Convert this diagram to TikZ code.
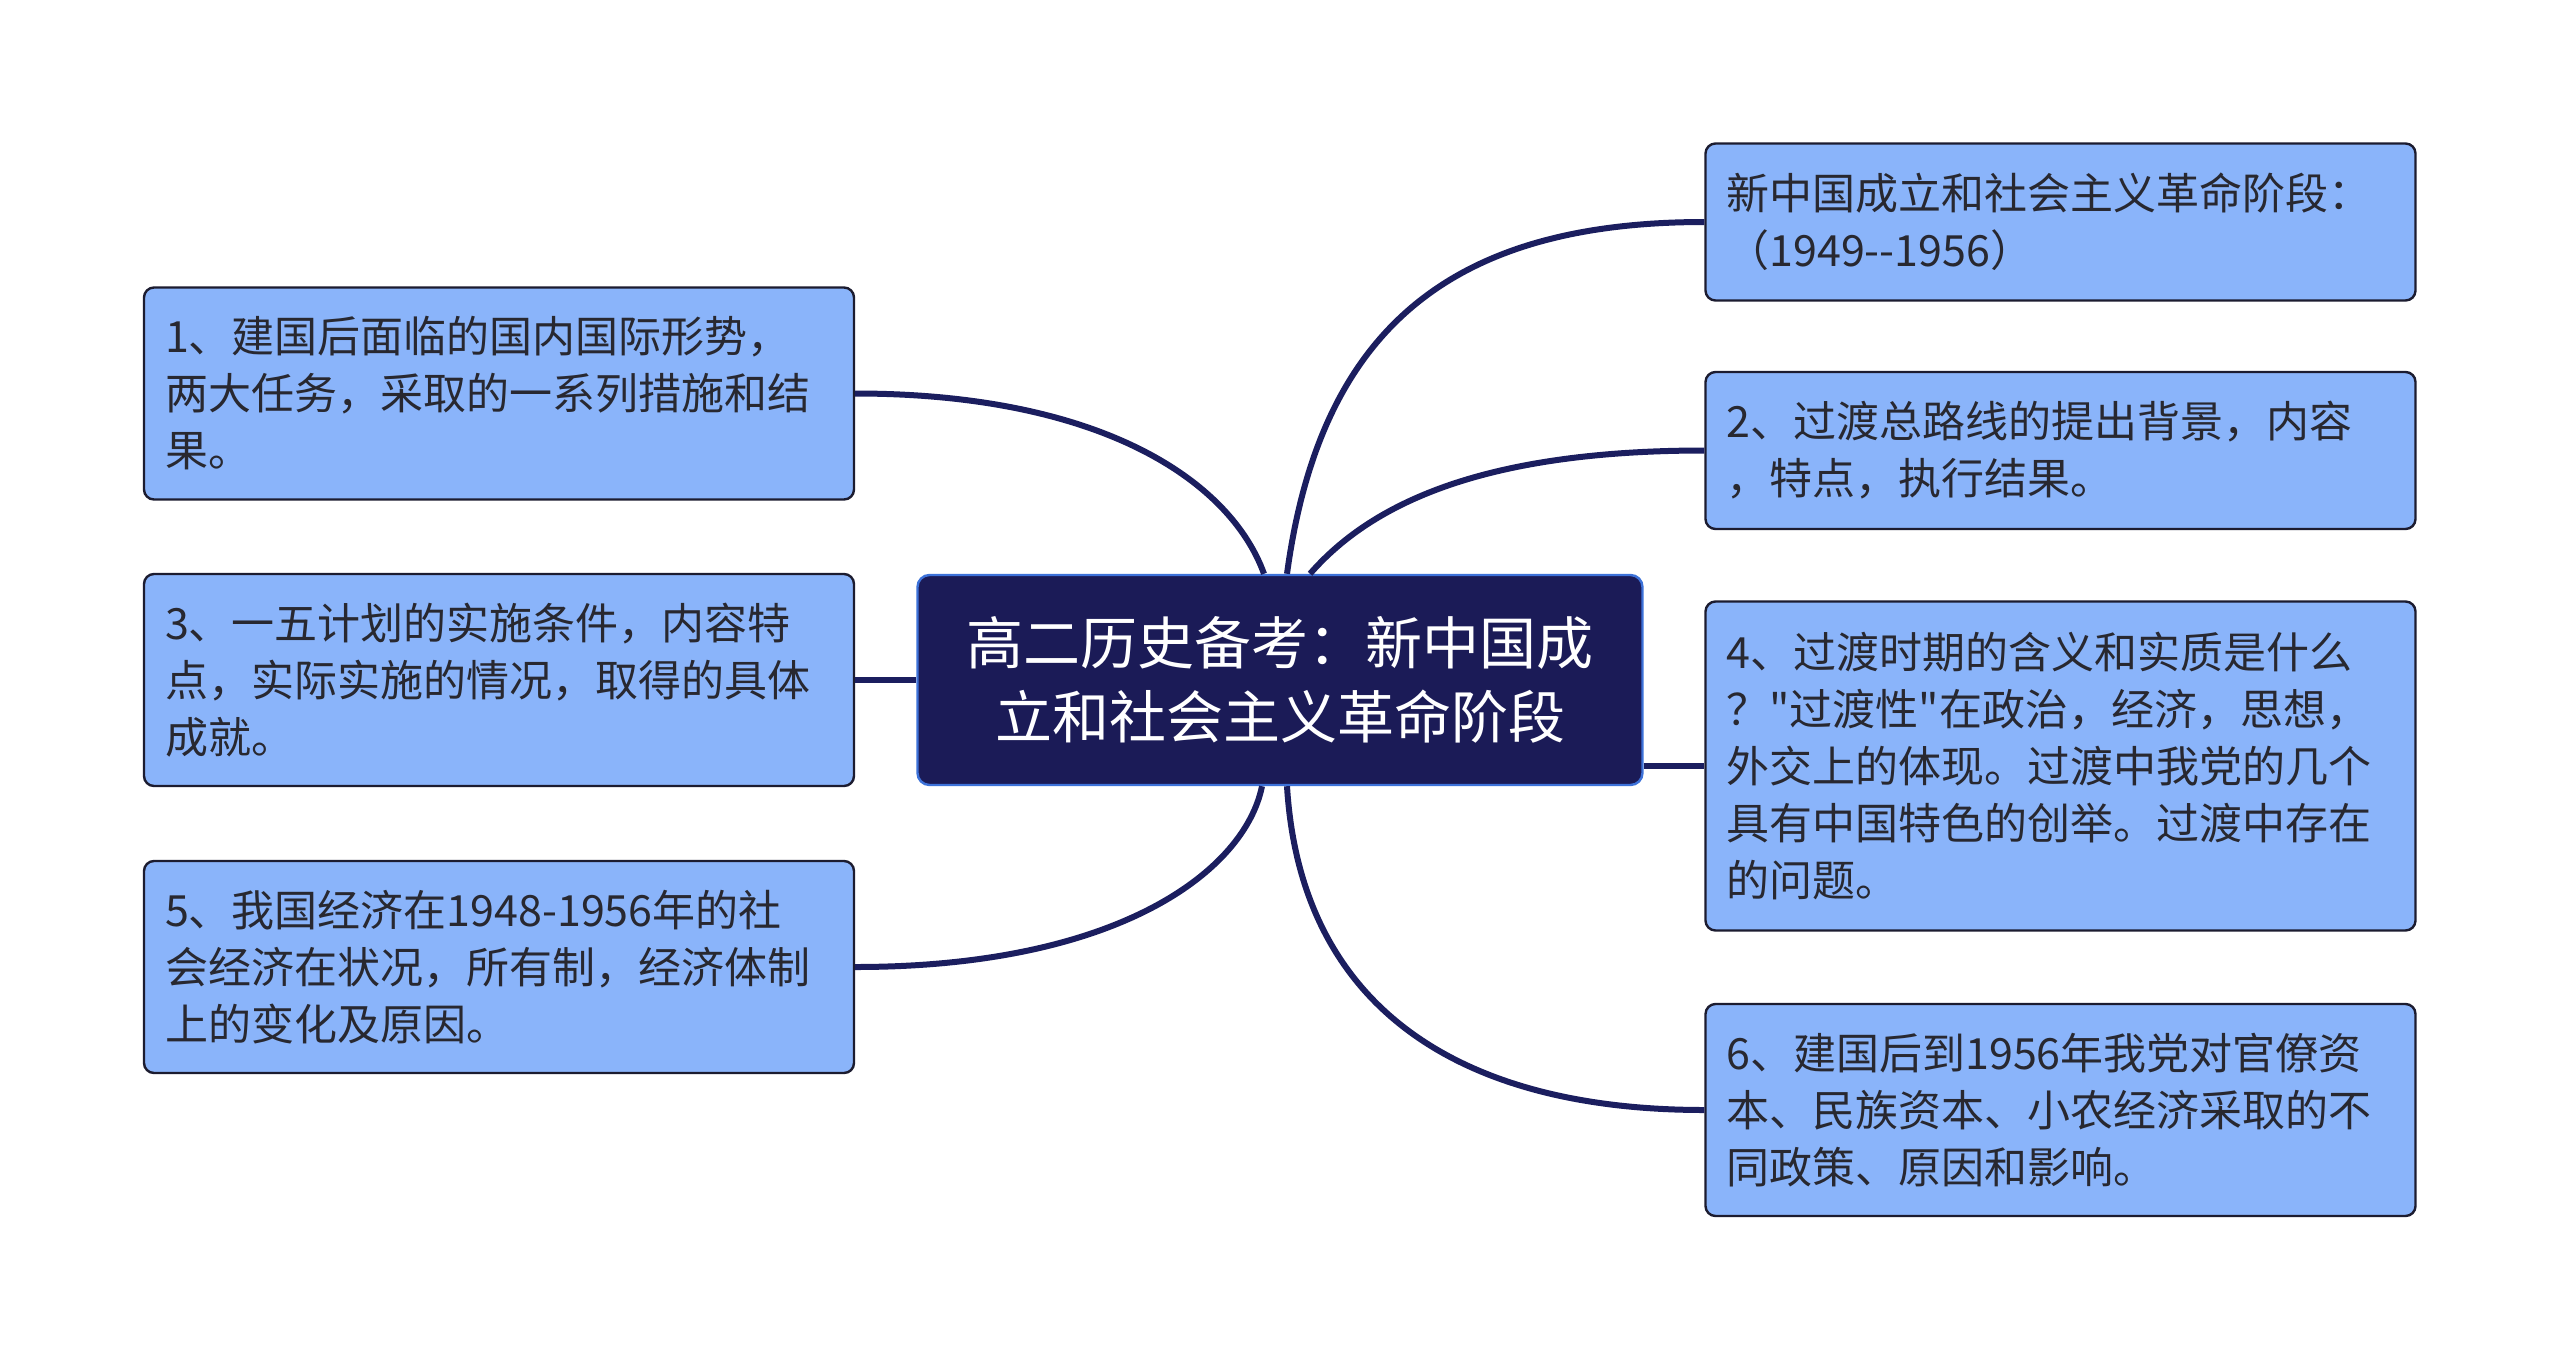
\documentclass[tikz,border=0pt]{standalone}
\usepackage{fontspec}
\newfontfamily\cjk{Noto Sans CJK SC}
\usetikzlibrary{calc}
\definecolor{leaf}{RGB}{138,180,250}
\definecolor{leafline}{RGB}{28,28,48}
\definecolor{navy}{RGB}{27,27,87}
\definecolor{cborder}{RGB}{61,114,217}
\definecolor{ink}{RGB}{40,40,48}
\definecolor{linkc}{RGB}{27,30,95}
\tikzset{
  leafbox/.style={draw=leafline, line width=1.2pt, fill=leaf, rounded corners=5pt,
    text=ink, font=\cjk\fontsize{21.5}{28.5}\selectfont, align=left,
    text width=334pt, inner xsep=10.5pt, inner ysep=0pt, minimum width=355pt},
  rootbox/.style={draw=cborder, line width=1.2pt, fill=navy, rounded corners=6pt,
    text=white, font=\cjk\fontsize{28.5}{36.75}\selectfont, align=center,
    minimum width=362.5pt, minimum height=105pt, inner sep=0pt},
  linkline/.style={draw=linkc, line width=3pt}
}
\begin{document}
\begin{tikzpicture}[x=0.5pt,y=-0.5pt]
\useasboundingbox[fill=white] (0,0) rectangle (2560,1361);

\node[rootbox] (c) at (1280,680) {高二历史备考：新中国成\\立和社会主义革命阶段};

\node[leafbox, minimum height=106pt] (b1) at (499,393.5)
  {1、建国后面临的国内国际形势，\\两大任务，采取的一系列措施和结\\果。};
\node[leafbox, minimum height=106pt] (b3) at (499,680)
  {3、一五计划的实施条件，内容特\\点，实际实施的情况，取得的具体\\成就。};
\node[leafbox, minimum height=106pt] (b5) at (499,967)
  {5、我国经济在1948-1956年的社\\会经济在状况，所有制，经济体制\\上的变化及原因。};

\node[leafbox, minimum height=78.5pt] (b0) at (2060.5,222)
  {新中国成立和社会主义革命阶段：\\（1949--1956）};
\node[leafbox, minimum height=78.5pt] (b2) at (2060.5,450.5)
  {2、过渡总路线的提出背景，内容\\，特点，执行结果。};
\node[leafbox, minimum height=164.5pt] (b4) at (2060.5,766)
  {4、过渡时期的含义和实质是什么\\？"过渡性"在政治，经济，思想，\\外交上的体现。过渡中我党的几个\\具有中国特色的创举。过渡中存在\\的问题。};
\node[leafbox, minimum height=106pt] (b6) at (2060.5,1110)
  {6、建国后到1956年我党对官僚资\\本、民族资本、小农经济采取的不\\同政策、原因和影响。};

\draw[linkline] ($(c.north)+(-16,0)$) .. controls (1230,480) and (1100,393.5) .. (b1.east);
\draw[linkline] ($(c.north)+(7,0)$) .. controls (1320,330) and (1450,222) .. (b0.west);
\draw[linkline] ($(c.north)+(30,0)$) .. controls (1370,505) and (1480,450.5) .. (b2.west);
\draw[linkline] (c.west) -- (b3.east);
\draw[linkline] (c.east |- b4.west) -- (b4.west);
\draw[linkline] ($(c.south)+(-18,0)$) .. controls (1245,870) and (1120,967) .. (b5.east);
\draw[linkline] ($(c.south)+(7,0)$) .. controls (1300,1000) and (1450,1110) .. (b6.west);
\end{tikzpicture}
\end{document}
